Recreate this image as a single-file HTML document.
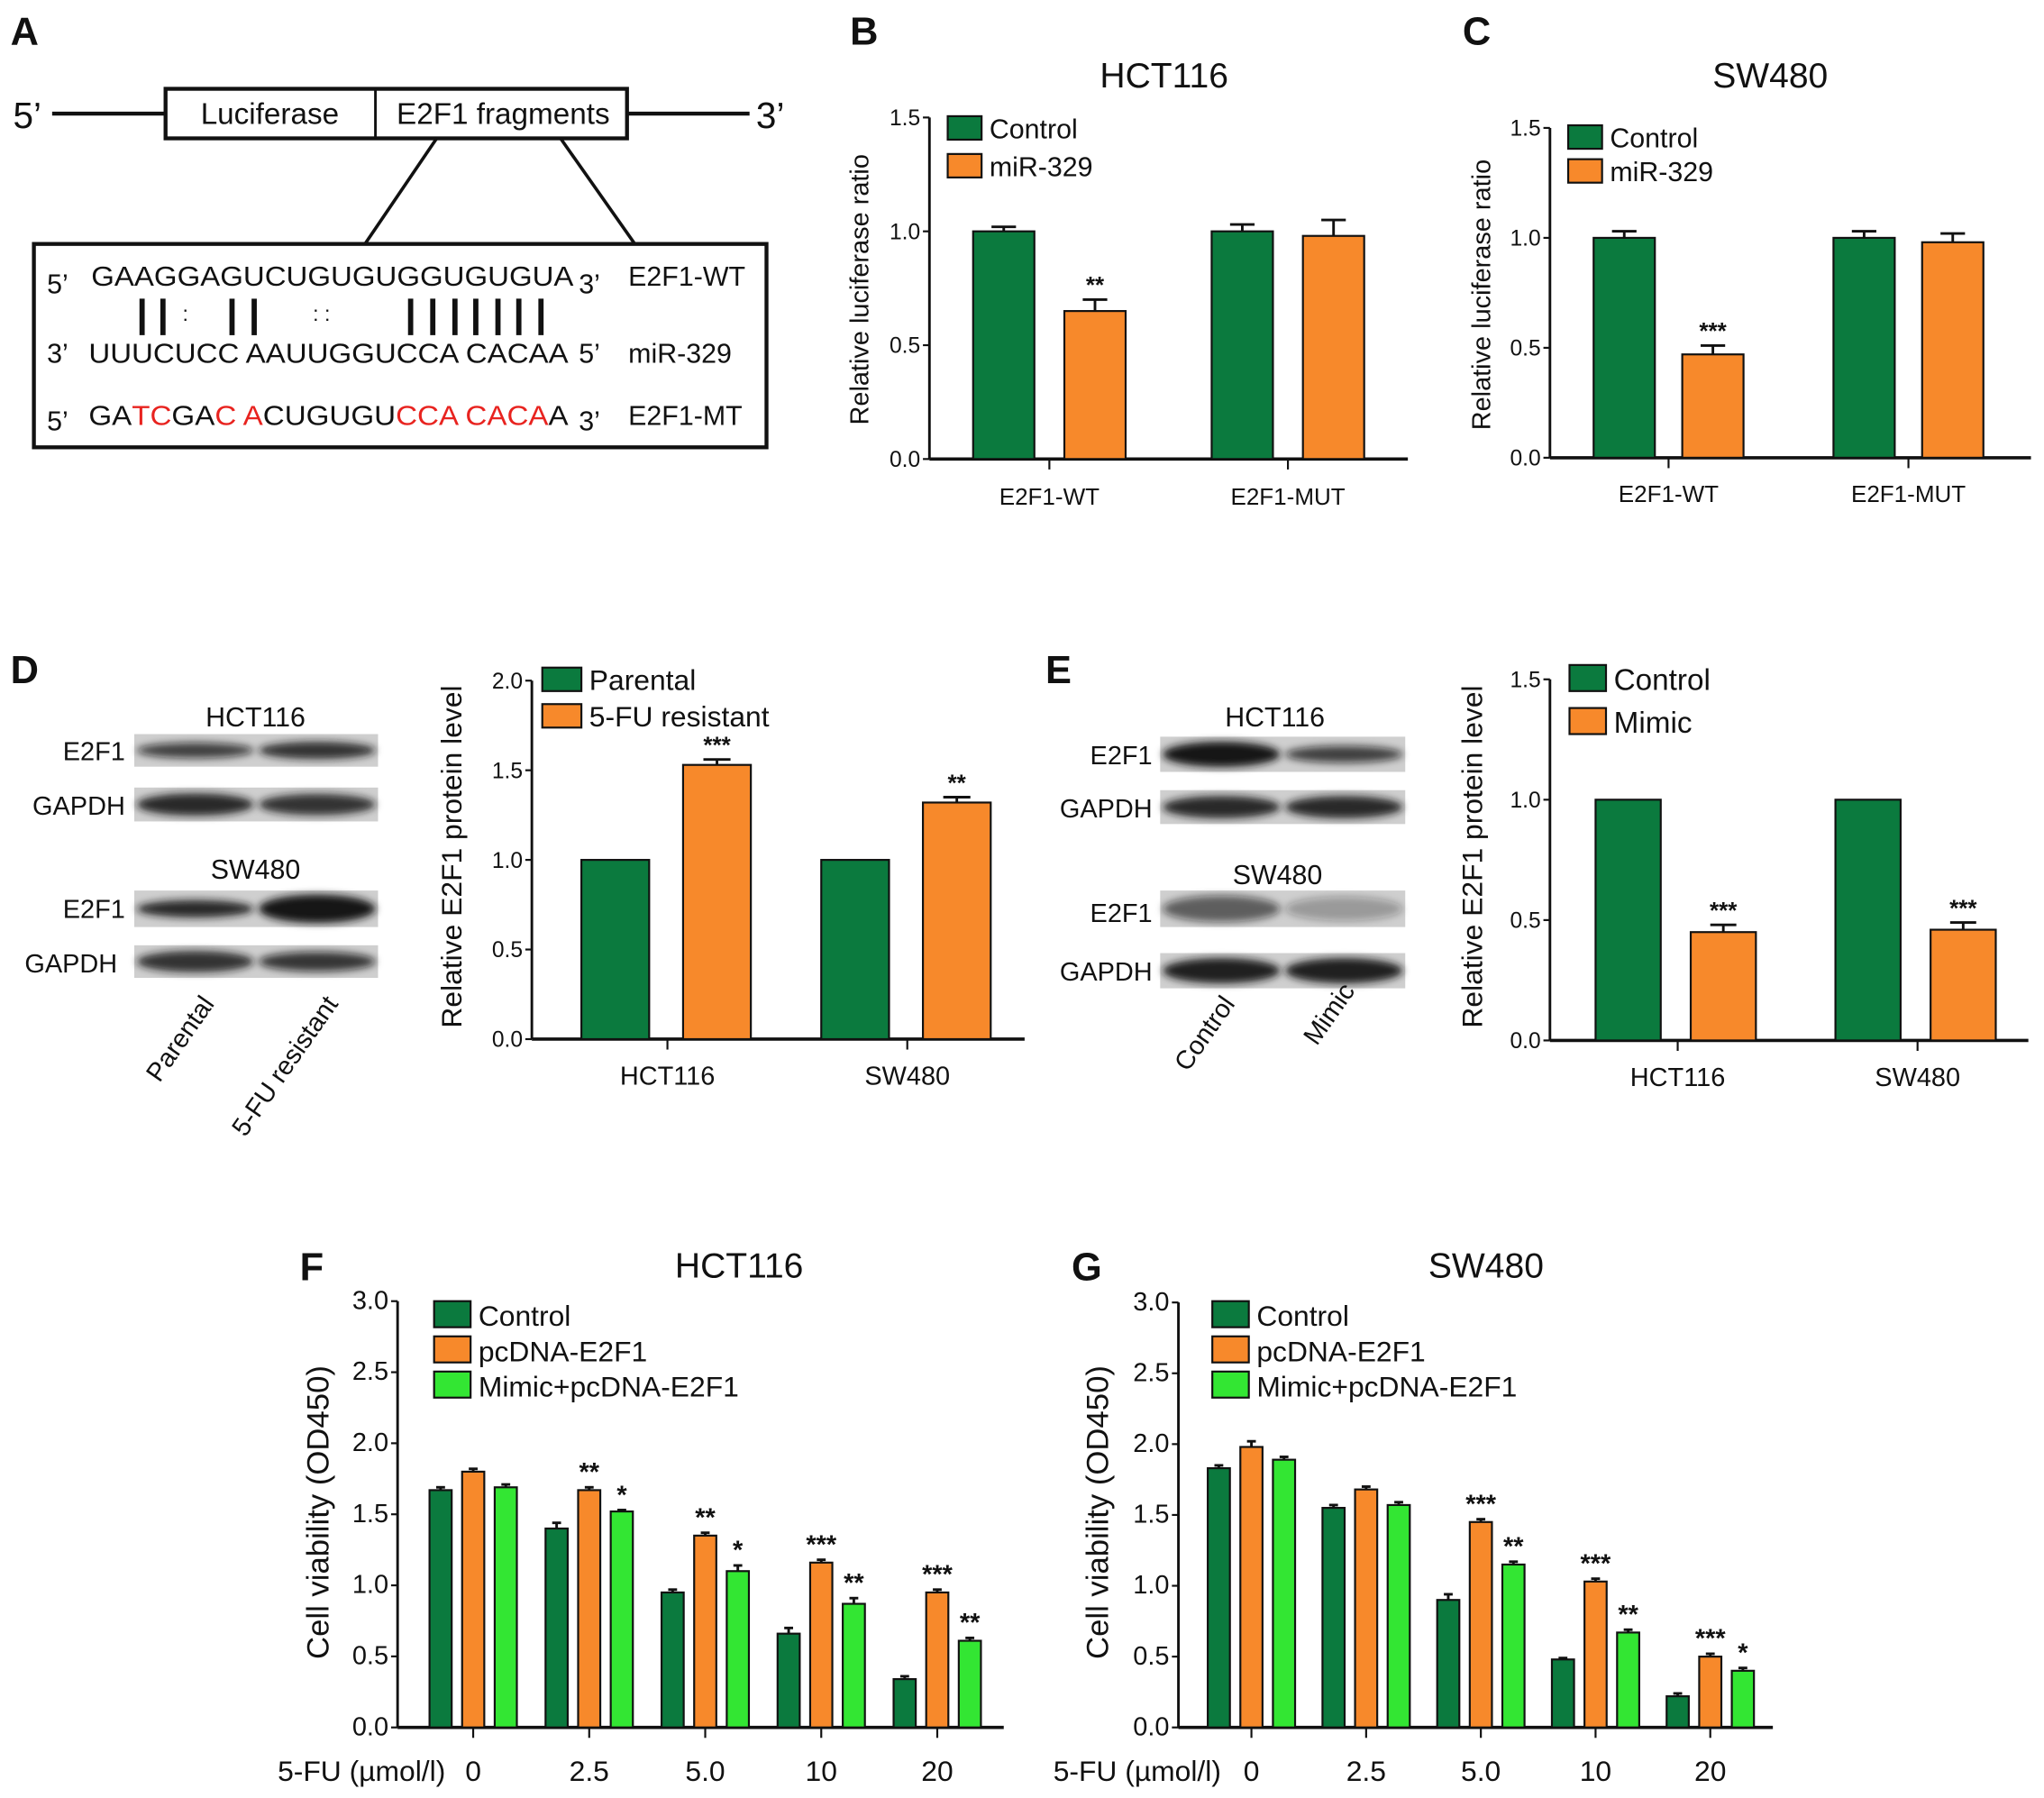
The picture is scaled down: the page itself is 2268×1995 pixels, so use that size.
<!DOCTYPE html>
<html><head><meta charset="utf-8"><style>
html,body{margin:0;padding:0;background:#fff}
svg{display:block}
text{font-family:"Liberation Sans",Arial,sans-serif;fill:#111}
</style></head><body>
<svg id="fig" width="2268" height="1995" viewBox="0 0 1568 1379" xmlns="http://www.w3.org/2000/svg">
<defs><filter id="blur" x="-20%" y="-50%" width="140%" height="200%"><feGaussianBlur stdDeviation="3"/></filter></defs>
<g>
<text x="8" y="34" font-size="30" font-weight="bold">A</text>
<text x="10" y="98" font-size="28">5’</text>
<line x1="40" y1="87" x2="127" y2="87" stroke="#111" stroke-width="3"/>
<rect x="127" y="68" width="354" height="38" fill="#fff" stroke="#111" stroke-width="3"/>
<line x1="288" y1="68" x2="288" y2="106" stroke="#111" stroke-width="2"/>
<text x="207" y="95" font-size="23" text-anchor="middle">Luciferase</text>
<text x="386" y="95" font-size="23" text-anchor="middle">E2F1 fragments</text>
<line x1="481" y1="87" x2="575" y2="87" stroke="#111" stroke-width="3"/>
<text x="580" y="98" font-size="28">3’</text>
<line x1="335" y1="106" x2="280" y2="187" stroke="#111" stroke-width="2.5"/>
<line x1="430" y1="106" x2="487" y2="187" stroke="#111" stroke-width="2.5"/>
<rect x="26" y="187" width="562" height="156" fill="#fff" stroke="#111" stroke-width="3"/>
<text font-size="21"><tspan x="36" y="225">5’</tspan><tspan x="444" y="225">3’</tspan><tspan x="482" y="219">E2F1-WT</tspan></text>
<text x="70" y="219" font-size="21" textLength="370" lengthAdjust="spacingAndGlyphs">GAAGGAGUCUGUGUGGUGUGUA</text>
<g stroke="#111" stroke-width="4">
<line x1="109" y1="229" x2="109" y2="257"/><line x1="125" y1="229" x2="125" y2="257"/>
<line x1="178" y1="229" x2="178" y2="257"/><line x1="195" y1="229" x2="195" y2="257"/>
<line x1="315" y1="229" x2="315" y2="257"/><line x1="332" y1="229" x2="332" y2="257"/><line x1="349" y1="229" x2="349" y2="257"/><line x1="365" y1="229" x2="365" y2="257"/><line x1="382" y1="229" x2="382" y2="257"/><line x1="398" y1="229" x2="398" y2="257"/><line x1="415" y1="229" x2="415" y2="257"/>
</g>
<text x="140" y="246" font-size="16">:</text><text x="240" y="246" font-size="16">: :</text>
<text font-size="21"><tspan x="36" y="278">3’</tspan><tspan x="444" y="278">5’</tspan><tspan x="482" y="278">miR-329</tspan></text>
<text x="68" y="278" font-size="21" textLength="368" lengthAdjust="spacingAndGlyphs">UUUCUCC AAUUGGUCCA CACAA</text>
<text font-size="21"><tspan x="36" y="330">5’</tspan><tspan x="444" y="330">3’</tspan><tspan x="482" y="326">E2F1-MT</tspan></text>
<text x="68" y="326" font-size="21" textLength="368" lengthAdjust="spacingAndGlyphs">GA<tspan fill="#e8231f">TC</tspan>GA<tspan fill="#e8231f">C A</tspan>CUGUGU<tspan fill="#e8231f">CCA CACA</tspan>A</text>
</g>
<g id="charts"></g>
<g id="blots"></g>
</svg>
<script>
const NS="http://www.w3.org/2000/svg";
const root=document.getElementById('charts');
const blots=document.getElementById('blots');
const C1="#0b7a3e",C2="#f7892b",C3="#33e633";
// Panel B data
const bCats=["E2F1-WT","E2F1-MUT"];
const bControl=[1.0,1.0];
const bMir=[0.65,0.98];
const bControlErr=[0.02,0.03];
const bMirErr=[0.05,0.07];
const bStars=["**",""];
// Panel C data
const cCats=["E2F1-WT","E2F1-MUT"];
const cControl=[1.0,1.0];
const cMir=[0.47,0.98];
const cControlErr=[0.03,0.03];
const cMirErr=[0.04,0.04];
const cStars=["***",""];
// Panel D data
const dCats=["HCT116","SW480"];
const dParental=[1.0,1.0];
const dResistant=[1.53,1.32];
const dResistantErr=[0.03,0.03];
const dStars=["***","**"];
// Panel E data
const eCats=["HCT116","SW480"];
const eControl=[1.0,1.0];
const eMimic=[0.45,0.46];
const eMimicErr=[0.03,0.03];
const eStars=["***","***"];
// Panel F data
const fCats=["0","2.5","5.0","10","20"];
const fControl=[1.67,1.40,0.95,0.66,0.34];
const fPcdna=[1.80,1.67,1.35,1.16,0.95];
const fMimic=[1.69,1.52,1.10,0.87,0.61];
const fControlErr=[0.02,0.04,0.02,0.04,0.02];
const fPcdnaErr=[0.02,0.02,0.02,0.02,0.02];
const fMimicErr=[0.02,0.01,0.04,0.04,0.02];
const fPcdnaStars=["","**","**","***","***"];
const fMimicStars=["","*","*","**","**"];
// Panel G data
const gCats=["0","2.5","5.0","10","20"];
const gControl=[1.83,1.55,0.90,0.48,0.22];
const gPcdna=[1.98,1.68,1.45,1.03,0.50];
const gMimic=[1.89,1.57,1.15,0.67,0.40];
const gControlErr=[0.02,0.02,0.04,0.01,0.02];
const gPcdnaErr=[0.04,0.02,0.02,0.02,0.02];
const gMimicErr=[0.02,0.02,0.02,0.02,0.02];
const gPcdnaStars=["","","***","***","***"];
const gMimicStars=["","","**","**","*"];
const yTicks15=["0.0","0.5","1.0","1.5"];
const yTicks20=["0.0","0.5","1.0","1.5","2.0"];
const yTicks30=["0.0","0.5","1.0","1.5","2.0","2.5","3.0"];

function el(tag,attrs,parent){const e=document.createElementNS(NS,tag);for(const k in attrs)e.setAttribute(k,attrs[k]);(parent||root).appendChild(e);return e;}
function txt(s,attrs,parent){const e=el('text',attrs,parent);e.textContent=s;return e;}

function chart(cfg){
  const g=el('g',{});
  
  
  const ymax=parseFloat(cfg.ticks[cfg.ticks.length-1]);
  const y=v=>cfg.y0-(v/ymax)*(cfg.y0-cfg.ytop);
  const x=(i)=>cfg.xc0+i*cfg.dx;
  const ya=el('line',{x1:cfg.ax,y1:cfg.ytop,x2:cfg.ax,y2:cfg.y0,stroke:'#111','stroke-width':2},g);
  
  cfg.ticks.forEach(t=>{const v=parseFloat(t);
    el('line',{x1:cfg.ax-5,y1:y(v),x2:cfg.ax,y2:y(v),stroke:'#111','stroke-width':1.5},g);
    const l=txt(t,{x:cfg.ax-7,y:y(v)+6,'font-size':cfg.tfs,'text-anchor':'end'},g);
    
  });
  const xa=el('line',{x1:cfg.ax,y1:cfg.y0,x2:cfg.axEnd,y2:cfg.y0,stroke:'#111','stroke-width':2.5},g);
  
  cfg.cats.forEach((c,i)=>{
    el('line',{x1:x(i),y1:cfg.y0,x2:x(i),y2:cfg.y0+8,stroke:'#111','stroke-width':1.5},g);
    const l=txt(c,{x:x(i),y:cfg.xly,'font-size':cfg.xfs,'text-anchor':'middle'},g);
    
  });
  cfg.series.forEach((s,si)=>{
    s.vals.forEach((v,i)=>{
      const cx=x(i)+s.off;
      const top=y(v);
      if(s.err){const et=y(v+s.err[i]);
        el('line',{x1:cx,y1:top,x2:cx,y2:et,stroke:'#111','stroke-width':2},g);
        el('line',{x1:cx-cfg.bw*0.2,y1:et,x2:cx+cfg.bw*0.2,y2:et,stroke:'#111','stroke-width':2},g);}
      const r=el('rect',{x:cx-cfg.bw/2,y:top,width:cfg.bw,height:cfg.y0-top,fill:s.color,stroke:'#111','stroke-width':1.5},g);
      
      
      if(s.stars&&s.stars[i]){const et=y(v+(s.err?s.err[i]:0));
        const st=txt(s.stars[i],{x:cx,y:et-5,'font-size':cfg.sfs,'font-weight':'bold','text-anchor':'middle'},g);
        }
    });
    const lg=el('g',{},g);
    
    
    el('rect',{x:cfg.lx,y:cfg.ly+si*cfg.lgap,width:cfg.lw,height:cfg.lh,fill:s.color,stroke:'#111','stroke-width':1.5},lg);
    txt(s.label,{x:cfg.lx+cfg.lw+6,y:cfg.ly+si*cfg.lgap+cfg.lh-1,'font-size':cfg.lfs},lg);
  });
  const yl=txt(cfg.ylabel,{x:0,y:0,'font-size':cfg.ylfs,'text-anchor':'middle',transform:`translate(${cfg.ylx},${cfg.yly}) rotate(-90)`},g);
  
  if(cfg.title){const t=txt(cfg.title,{x:cfg.tx,y:cfg.ty,'font-size':27,'text-anchor':'middle'},g);
    }
  const p=txt(cfg.letter,{x:cfg.px,y:cfg.py,'font-size':30,'font-weight':'bold'},g);
  
  return g;
}
chart({name:'panel-b-chart',letter:'B',px:652,py:34,title:'HCT116',tx:893,ty:67,ticks:yTicks15,ax:713,ytop:90,y0:352,axEnd:1080,xc0:805,dx:183,bw:47,cats:bCats,xly:387,xfs:18,tfs:17,sfs:18,
 series:[{key:'control',label:'Control',vals:bControl,err:bControlErr,color:C1,off:-35},{key:'mir329',label:'miR-329',vals:bMir,err:bMirErr,stars:bStars,color:C2,off:35}],
 lx:727,ly:89,lw:26,lh:18,lgap:29,lfs:21,ylabel:'Relative luciferase ratio',ylfs:20,ylx:666,yly:222});
chart({name:'panel-c-chart',letter:'C',px:1122,py:34,title:'SW480',tx:1358,ty:67,ticks:yTicks15,ax:1189,ytop:98,y0:351,axEnd:1558,xc0:1280,dx:184,bw:47,cats:cCats,xly:385,xfs:18,tfs:17,sfs:18,
 series:[{key:'control',label:'Control',vals:cControl,err:cControlErr,color:C1,off:-34},{key:'mir329',label:'miR-329',vals:cMir,err:cMirErr,stars:cStars,color:C2,off:34}],
 lx:1203,ly:96,lw:26,lh:18,lgap:26,lfs:21,ylabel:'Relative luciferase ratio',ylfs:20,ylx:1143,yly:226});
chart({name:'panel-d-chart',letter:'D',px:8,py:524,ticks:yTicks20,ax:408,ytop:522,y0:797,axEnd:786,xc0:512,dx:184,bw:52,cats:dCats,xly:832,xfs:20,tfs:17,sfs:18,
 series:[{key:'parental',label:'Parental',vals:dParental,color:C1,off:-40},{key:'resistant',label:'5-FU resistant',vals:dResistant,err:dResistantErr,stars:dStars,color:C2,off:38}],
 lx:416,ly:512,lw:30,lh:18,lgap:28,lfs:22,ylabel:'Relative E2F1 protein level',ylfs:22,ylx:354,yly:657});
chart({name:'panel-e-chart',letter:'E',px:802,py:524,ticks:yTicks15,ax:1189,ytop:521,y0:798,axEnd:1556,xc0:1287,dx:184,bw:50,cats:eCats,xly:833,xfs:20,tfs:17,sfs:18,
 series:[{key:'control',label:'Control',vals:eControl,color:C1,off:-38},{key:'mimic',label:'Mimic',vals:eMimic,err:eMimicErr,stars:eStars,color:C2,off:35}],
 lx:1204,ly:510,lw:28,lh:20,lgap:33,lfs:23,ylabel:'Relative E2F1 protein level',ylfs:22,ylx:1137,yly:657});
chart({name:'panel-f-chart',letter:'F',px:230,py:982,title:'HCT116',tx:567,ty:980,ticks:yTicks30,ax:305,ytop:998,y0:1325,axEnd:770,xc0:363,dx:89,bw:17,cats:fCats,xly:1366,xfs:22,tfs:20,sfs:20,
 series:[{key:'control',label:'Control',vals:fControl,err:fControlErr,color:C1,off:-25},{key:'pcdna-e2f1',label:'pcDNA-E2F1',vals:fPcdna,err:fPcdnaErr,stars:fPcdnaStars,color:C2,off:0},{key:'mimic-pcdna-e2f1',label:'Mimic+pcDNA-E2F1',vals:fMimic,err:fMimicErr,stars:fMimicStars,color:C3,off:25}],
 lx:333,ly:998,lw:28,lh:20,lgap:27,lfs:22,ylabel:'Cell viability (OD450)',ylfs:24,ylx:252,yly:1160});
chart({name:'panel-g-chart',letter:'G',px:822,py:982,title:'SW480',tx:1140,ty:980,ticks:yTicks30,ax:904,ytop:999,y0:1325,axEnd:1360,xc0:960,dx:88,bw:17,cats:gCats,xly:1366,xfs:22,tfs:20,sfs:20,
 series:[{key:'control',label:'Control',vals:gControl,err:gControlErr,color:C1,off:-25},{key:'pcdna-e2f1',label:'pcDNA-E2F1',vals:gPcdna,err:gPcdnaErr,stars:gPcdnaStars,color:C2,off:0},{key:'mimic-pcdna-e2f1',label:'Mimic+pcDNA-E2F1',vals:gMimic,err:gMimicErr,stars:gMimicStars,color:C3,off:25}],
 lx:930,ly:998,lw:28,lh:20,lgap:27,lfs:22,ylabel:'Cell viability (OD450)',ylfs:24,ylx:850,yly:1160});
[[213,'f'],[808,'g']].forEach(([xx,k])=>{const t=txt('5-FU (µmol/l)',{x:xx,y:1366,'font-size':22},root);
 });

function blot(name,x,y,w,h,b1,b2){
  const g=el('g',{},blots);
  
  
  el('rect',{x:x,y:y,width:w,height:h,fill:'#cfcfcf'},g);
  el('ellipse',{cx:x+w*0.25,cy:y+h/2,rx:w*0.24,ry:h*0.3*b1[1],fill:`rgba(20,20,20,${b1[0]})`,filter:'url(#blur)'},g);
  el('ellipse',{cx:x+w*0.75,cy:y+h/2,rx:w*0.24,ry:h*0.3*b2[1],fill:`rgba(20,20,20,${b2[0]})`,filter:'url(#blur)'},g);
}
function lbl(s,x,y,fs,anchor,rot){const t=txt(s,{x:x,y:y,'font-size':fs,'text-anchor':anchor||'end',transform:rot?`rotate(${rot} ${x} ${y})`:''},blots);
 }
lbl('HCT116',196,557,21,'middle');
blot('blot-d-hct116-e2f1',103,563,187,25,[0.75,0.8],[0.85,0.9]);
lbl('E2F1',96,583,20);
blot('blot-d-hct116-gapdh',103,604,187,26,[0.9,1.1],[0.85,1.05]);
lbl('GAPDH',96,625,20);
lbl('SW480',196,674,21,'middle');
blot('blot-d-sw480-e2f1',103,683,187,28,[0.9,0.8],[1,1.3]);
lbl('E2F1',96,704,20);
blot('blot-d-sw480-gapdh',103,725,187,25,[0.85,1.1],[0.8,1.0]);
lbl('GAPDH',90,746,20);
lbl('Parental',165,770,20,'end',-55);
lbl('5-FU resistant',260,770,20,'end',-55);
lbl('HCT116',978,557,21,'middle');
blot('blot-e-hct116-e2f1',890,565,188,27,[1,1.2],[0.75,0.8]);
lbl('E2F1',884,586,20);
blot('blot-e-hct116-gapdh',890,606,188,26,[0.9,1.1],[0.9,1.1]);
lbl('GAPDH',884,627,20);
lbl('SW480',980,678,21,'middle');
blot('blot-e-sw480-e2f1',890,683,188,28,[0.6,1.2],[0.3,1.1]);
lbl('E2F1',884,707,20);
blot('blot-e-sw480-gapdh',890,731,188,27,[0.95,1.2],[0.95,1.2]);
lbl('GAPDH',884,752,20);
lbl('Control',948,770,20,'end',-55);
lbl('Mimic',1040,760,20,'end',-55);
</script>
</body></html>
